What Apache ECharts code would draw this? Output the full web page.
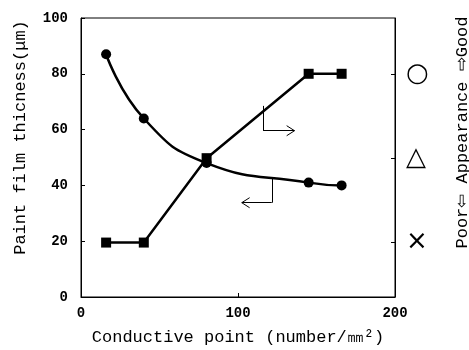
<!DOCTYPE html>
<html>
<head>
<meta charset="utf-8">
<script src="https://cdn.jsdelivr.net/npm/echarts@6/dist/echarts.min.js"></script>
<style>
  html, body { margin: 0; padding: 0; background: #fff; }
  #chart { width: 469px; height: 350px; }
</style>
</head>
<body>
<div id="chart"></div>
<script>
// 导电点数 (number/mm2)
var conductive = [16, 40, 80, 145, 166];
// 涂膜厚度 (μm)
var thickness = [87, 64, 48, 41, 40];
// 外观等级 1=× 2=△ 3=○
var appearance = [1, 1, 2, 3, 3];
var appearanceLevels = [1, 2, 3];
var appearanceLabels = ['×', '△', '○'];

// 指示箭头 (数据坐标)
var arrowToRight = [[116, 68.5], [116, 59.6], [136, 59.6]];
var arrowToLeft = [[121.5, 42.6], [121.5, 33.8], [102.4, 33.8]];

function pairs(xs, ys) {
	return xs.map(function (x, i) { return [x, ys[i]]; });
}

// 折线 + 箭头头部
function arrowSegs(pts, dir) {
	var segs = [];
	for (var i = 0; i < pts.length - 1; i++) {
		segs.push([{ coord: pts[i] }, { coord: pts[i + 1] }]);
	}
	var tip = pts[pts.length - 1];
	var back = dir === 'right' ? -5 : 5;
	segs.push([{ coord: tip }, { coord: [tip[0] + back, tip[1] + 1.8] }]);
	segs.push([{ coord: tip }, { coord: [tip[0] + back, tip[1] - 1.8] }]);
	return segs;
}

var chart = echarts.init(document.getElementById('chart'));
var nameFont = 'Liberation Mono';
var tickFont = { fontFamily: 'Liberation Mono', fontWeight: 'bold', fontSize: 14, color: '#000' };

chart.setOption({
	animation: false,
	grid: {
		left: 81, right: 74, top: 18, bottom: 53,
		outerBoundsMode: 'none',
		show: true, borderColor: '#000', borderWidth: 1
	},
	xAxis: {
		type: 'value',
		min: 0, max: 200, interval: 100,
		name: 'Conductive point (number/㎜²)',
		nameLocation: 'middle',
		nameGap: 32,
		nameTextStyle: { fontFamily: nameFont, fontSize: 17, color: '#000' },
		axisLine: { lineStyle: { color: '#000', width: 1 } },
		axisTick: { inside: true, length: 4, lineStyle: { color: '#000' } },
		axisLabel: Object.assign({ margin: 9 }, tickFont),
		splitLine: { show: false }
	},
	yAxis: [{
		type: 'value',
		min: 0, max: 100, interval: 20,
		name: 'Paint film thicness(μm)',
		nameLocation: 'middle',
		nameGap: 52,
		nameTextStyle: { fontFamily: nameFont, fontSize: 17, color: '#000', padding: [0, 0, 0, 40] },
		axisLine: { show: true, lineStyle: { color: '#000', width: 1 } },
		axisTick: { show: true, inside: true, length: 4, lineStyle: { color: '#000' } },
		axisLabel: Object.assign({ margin: 13 }, tickFont),
		splitLine: { show: false }
	}, {
		type: 'value',
		position: 'right',
		min: 0.355, max: 3.661,
		name: 'Poor⇦ Appearance ⇨Good',
		nameLocation: 'middle',
		nameGap: 59,
		nameRotate: 90,
		nameTextStyle: { fontFamily: nameFont, fontSize: 17, color: '#000', padding: [0, 0, 0, 50] },
		axisLine: { show: true, lineStyle: { color: '#000', width: 1 } },
		axisTick: { show: true, inside: true, length: 4, customValues: appearanceLevels, lineStyle: { color: '#000' } },
		axisLabel: {
			customValues: appearanceLevels,
			margin: 11,
			fontFamily: 'DejaVu Sans',
			fontSize: 26,
			color: '#000',
			formatter: function (v) {
				return appearanceLabels[appearanceLevels.indexOf(Math.round(v))] || '';
			}
		},
		splitLine: { show: false }
	}],
	series: [{
		name: 'thickness',
		type: 'line',
		yAxisIndex: 0,
		data: pairs(conductive, thickness),
		smooth: 0.5,
		symbol: 'circle',
		symbolSize: 10,
		lineStyle: { color: '#000', width: 2.5 },
		itemStyle: { color: '#000' },
		markLine: {
			silent: true,
			symbol: ['none', 'none'],
			label: { show: false },
			lineStyle: { color: '#000', width: 1, type: 'solid' },
			data: arrowSegs(arrowToRight, 'right').concat(arrowSegs(arrowToLeft, 'left'))
		}
	}, {
		name: 'appearance',
		type: 'line',
		yAxisIndex: 1,
		data: pairs(conductive, appearance),
		smooth: false,
		symbol: 'rect',
		symbolSize: 10,
		lineStyle: { color: '#000', width: 2.5 },
		itemStyle: { color: '#000' }
	}]
});
</script>
</body>
</html>
